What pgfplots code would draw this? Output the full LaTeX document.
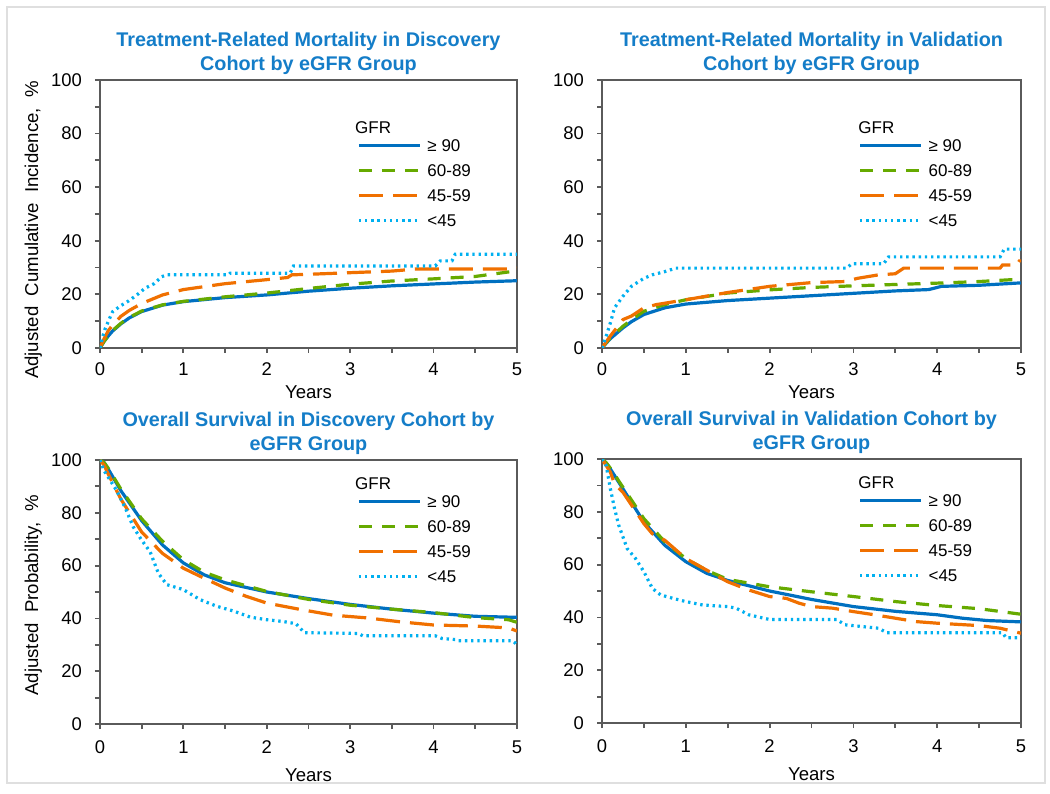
\documentclass[border=0pt]{standalone}
\usepackage{fontspec}
\setmainfont{Liberation Sans}
\usepackage{pgfplots}
\pgfplotsset{compat=1.18}
\definecolor{cBlue}{RGB}{0,112,192}
\definecolor{cGreen}{RGB}{102,170,0}
\definecolor{cOrange}{RGB}{240,112,0}
\definecolor{cLight}{RGB}{0,176,240}
\definecolor{cTitle}{RGB}{20,125,200}
\definecolor{cAxis}{RGB}{90,90,90}
\pgfplotsset{
  panel/.style={
    scale only axis, anchor=south west,
    xmin=0, xmax=5, ymin=0, ymax=100,
    xtick={0,1,2,3,4,5}, minor xtick={0.5,1.5,2.5,3.5,4.5},
    ytick={0,20,40,60,80,100}, minor ytick={10,30,50,70,90},
    tick align=outside, xtick pos=bottom, ytick pos=left,
    major tick length=2.5pt, minor tick length=2.5pt,
    every tick/.style={cAxis, line width=0.9pt},
    axis line style={cAxis, line width=1.3pt},
    tick label style={font=\fontsize{9.2}{10}\selectfont},
    yticklabel style={xshift=-3pt},
    /pgf/number format/assume math mode=true,
    title style={font=\fontsize{9.9}{12}\selectfont\bfseries, text=cTitle, align=center, at={(0.5,1)}, anchor=south, yshift=-3.5pt, inner sep=0pt},
    label style={font=\fontsize{9.3}{10}\selectfont},
    xlabel={Years},
    legend image code/.code={\draw[##1] (0pt,0pt) -- (30.5pt,0pt);},
    legend style={draw=none, fill=none, font=\fontsize{8.5}{10}\selectfont, anchor=north west, inner sep=0pt, row sep=6.5pt, column sep=3pt, nodes={inner sep=0pt, text height=6pt, text depth=0pt}},
    legend cell align=left,
  },
  sBlue/.style={cBlue, line width=1.6pt},
  sGreen/.style={cGreen, line width=1.6pt, dash pattern=on 6.5pt off 5pt},
  sOrange/.style={cOrange, line width=1.6pt, dash pattern=on 12pt off 5pt},
  sLight/.style={cLight, line width=1.6pt, dash pattern=on 1.2pt off 1.9pt},
}
\newcommand{\gfr}{\node[anchor=base west, inner sep=0pt, font=\fontsize{8.5}{10}\selectfont] at (rel axis cs:0.611,\gfry) {GFR};}
\begin{document}
\begin{tikzpicture}
\useasboundingbox (0,0) rectangle (525pt,396.5pt);
\draw[gray!25, line width=1pt] (3.5pt,5pt) rectangle (522.5pt,393pt);
% ---------- Panel 1
\begin{axis}[panel, at={(50pt,222.5pt)}, width=208.5pt, height=134pt,
  title={Treatment-Related Mortality in Discovery\\Cohort by eGFR Group},
  ylabel={Adjusted\ \ Cumulative\ \ Incidence,\ \ \%},
  ylabel style={at={(axis description cs:-0.16,0.44)}, anchor=center},
  xlabel style={at={(axis description cs:0.5,-0.187)}, anchor=base},
  xticklabel style={yshift=-1.5pt},
  legend style={at={(axis description cs:0.616,0.757)}, yshift=3pt}]
\addplot[sBlue] coordinates {(0,0)(0.05,2.5)(0.1,4.5)(0.15,6.3)(0.25,9)(0.35,11.2)(0.5,13.6)(0.75,16)(1,17.3)(1.5,18.8)(2,19.8)(2.5,21.2)(3,22.3)(3.5,23.2)(4,23.9)(4.5,24.6)(5,25.1)};
\addlegendentry{≥ 90}
\addplot[sGreen] coordinates {(0,0)(0.05,2.5)(0.1,4.6)(0.15,6.5)(0.25,9.2)(0.35,11.4)(0.5,13.8)(0.75,16.1)(1,17.4)(1.5,19.1)(2,20.5)(2.5,22.2)(3,23.8)(3.5,25)(4,25.8)(4.5,26.7)(5,28.8)};
\addlegendentry{60-89}
\addplot[sOrange] coordinates {(0,0)(0.05,3.5)(0.1,6.5)(0.15,8.5)(0.25,11.8)(0.35,14)(0.5,16.6)(0.75,19.8)(1,21.8)(1.5,24)(2,25.5)(2.25,26.3)(2.3,27.3)(2.5,27.5)(3,28.1)(3.5,28.7)(3.8,29.5)(4,29.5)(4.5,29.5)(4.9,29.5)(5,29.8)};
\addlegendentry{45-59}
\addplot[sLight] coordinates {(0,0)(0.03,4)(0.06,7)(0.1,10)(0.15,13.5)(0.25,15.8)(0.34,17.5)(0.45,20)(0.54,22.3)(0.65,24)(0.74,26.6)(0.8,27.3)(1.54,27.3)(1.56,27.9)(2.28,27.9)(2.32,30.6)(4.02,30.6)(4.08,32.5)(4.22,32.5)(4.26,35)(5,35)};
\addlegendentry{<45}
\def\gfry{0.802}\gfr
\end{axis}
% ---------- Panel 2
\begin{axis}[panel, at={(301pt,222.5pt)}, width=209.5pt, height=134pt,
  title={Treatment-Related Mortality in Validation\\Cohort by eGFR Group},
  xlabel style={at={(axis description cs:0.5,-0.187)}, anchor=base},
  xticklabel style={yshift=-1.5pt},
  legend style={at={(axis description cs:0.611,0.757)}, yshift=3pt}]
\addplot[sBlue] coordinates {(0,0)(0.05,1.8)(0.1,3.5)(0.25,7.5)(0.35,9.8)(0.5,12.5)(0.75,15)(1,16.4)(1.5,17.7)(2,18.6)(2.5,19.5)(3,20.4)(3.5,21.3)(3.9,21.8)(4.05,23)(4.5,23.4)(5,24.3)};
\addlegendentry{≥ 90}
\addplot[sGreen] coordinates {(0,0)(0.05,2)(0.1,3.8)(0.25,8.1)(0.35,10.5)(0.5,13.7)(0.75,16.2)(1,18)(1.5,20.5)(2,21.7)(2.5,22.6)(3,23.2)(3.5,23.7)(4,24.2)(4.5,24.8)(5,25.7)};
\addlegendentry{60-89}
\addplot[sOrange] coordinates {(0,0)(0.05,2.3)(0.1,4.5)(0.2,8.5)(0.25,10.6)(0.35,11.9)(0.5,15)(0.65,16.2)(1,18)(1.5,20.7)(2,23)(2.5,24.4)(2.9,24.8)(3.05,26)(3.3,27.3)(3.5,27.7)(3.6,29.8)(4.75,29.8)(4.78,31)(4.95,31)(4.98,32.5)(5,32.5)};
\addlegendentry{45-59}
\addplot[sLight] coordinates {(0,0)(0.05,4.4)(0.1,9.4)(0.15,15)(0.25,19.3)(0.35,23)(0.5,26)(0.6,27.3)(0.75,28.5)(0.88,29.8)(2.92,29.8)(2.98,31.4)(3.36,31.4)(3.42,34)(4.75,34)(4.8,36.9)(5,36.9)};
\addlegendentry{<45}
\def\gfry{0.802}\gfr
\end{axis}
% ---------- Panel 3
\begin{axis}[panel, at={(50pt,34.5pt)}, width=208.5pt, height=132pt,
  title={Overall Survival in Discovery Cohort by\\eGFR Group},
  ylabel={Adjusted\ \ Probability,\ \ \%},
  ylabel style={at={(axis description cs:-0.16,0.487)}, anchor=center},
  xlabel style={at={(axis description cs:0.5,-0.219)}, anchor=base},
  xticklabel style={yshift=-2.5pt},
  legend style={at={(axis description cs:0.616,0.845)}, yshift=3pt}]
\addplot[sBlue] coordinates {(0,100)(0.05,99)(0.1,96.5)(0.25,88.4)(0.5,77)(0.75,67.8)(1,61)(1.25,56.5)(1.5,53.5)(2,50)(2.5,47.5)(3,45.3)(3.5,43.5)(4,42)(4.5,40.8)(5,40.4)};
\addlegendentry{≥ 90}
\addplot[sGreen] coordinates {(0,100)(0.05,99)(0.1,96.8)(0.25,89)(0.5,77.7)(0.75,69.2)(1,62.2)(1.25,57.5)(1.5,54.6)(2,50.2)(2.5,47.2)(3,45)(3.5,43.5)(4,42.2)(4.5,40.3)(4.9,39.5)(5,38.5)};
\addlegendentry{60-89}
\addplot[sOrange] coordinates {(0,100)(0.05,98)(0.1,94.6)(0.25,85.2)(0.5,72.7)(0.75,64.6)(1,59)(1.25,55.2)(1.5,51.5)(1.75,48.4)(2,45.8)(2.4,43.4)(2.8,41.2)(3.2,40.2)(3.6,38.7)(4,37.5)(4.5,37.1)(4.9,36.4)(5,35.2)};
\addlegendentry{45-59}
\addplot[sLight] coordinates {(0,100)(0.05,95.9)(0.1,93.4)(0.2,88.4)(0.3,82.1)(0.4,74.6)(0.5,69.6)(0.6,65.3)(0.7,57.1)(0.8,52.8)(1,50.9)(1.2,47.1)(1.4,44.6)(1.6,42.8)(1.8,40.5)(2,39.5)(2.2,38.8)(2.35,38)(2.45,34.6)(3.1,34.3)(3.15,33.4)(4.02,33.4)(4.1,32.4)(4.26,32)(4.3,31.5)(4.95,31.5)(5,30)};
\addlegendentry{<45}
\def\gfry{0.89}\gfr
\end{axis}
% ---------- Panel 4
\begin{axis}[panel, at={(301pt,35pt)}, width=209.5pt, height=132pt,
  title={Overall Survival in Validation Cohort by\\eGFR Group},
  xlabel style={at={(axis description cs:0.5,-0.219)}, anchor=base},
  xticklabel style={yshift=-2.5pt},
  legend style={at={(axis description cs:0.611,0.845)}, yshift=3pt}]
\addplot[sBlue] coordinates {(0,100)(0.05,98.5)(0.1,96.2)(0.25,88.7)(0.5,76.1)(0.75,67.3)(1,61.1)(1.25,56.7)(1.5,54)(2,50)(2.5,46.8)(3,44.1)(3.5,42.3)(4,41)(4.3,39.7)(4.6,38.8)(5,38.3)};
\addlegendentry{≥ 90}
\addplot[sGreen] coordinates {(0,100)(0.05,98.6)(0.1,96.5)(0.25,89.3)(0.5,77.4)(0.75,68.6)(1,62.3)(1.25,57.8)(1.5,54.4)(2,51.6)(2.5,49.7)(3,47.9)(3.5,46)(4,44.5)(4.5,43.3)(5,41.2)};
\addlegendentry{60-89}
\addplot[sOrange] coordinates {(0,100)(0.05,97.5)(0.1,95)(0.15,90.6)(0.25,87.4)(0.5,75.5)(0.6,71.7)(0.75,69.2)(1,62.3)(1.25,57.9)(1.5,53.5)(1.75,50.4)(2,47.9)(2.2,47.2)(2.35,45.4)(2.5,44.1)(2.75,43.5)(3,42.2)(3.25,41)(3.5,39.7)(3.75,38.4)(4,37.8)(4.5,36.9)(4.75,35.9)(5,34)};
\addlegendentry{45-59}
\addplot[sLight] coordinates {(0,100)(0.05,97.5)(0.1,88.7)(0.15,81.2)(0.2,74.9)(0.3,66.1)(0.4,62.3)(0.5,57.3)(0.6,51)(0.7,48.5)(0.85,47.2)(1,46)(1.2,44.7)(1.5,44.1)(1.6,43.5)(1.75,41)(2,39.2)(2.8,39.2)(2.9,37.2)(3.3,35.9)(3.4,34.2)(4.78,34.2)(4.82,32.3)(5,32.3)};
\addlegendentry{<45}
\def\gfry{0.89}\gfr
\end{axis}
\end{tikzpicture}
\end{document}
